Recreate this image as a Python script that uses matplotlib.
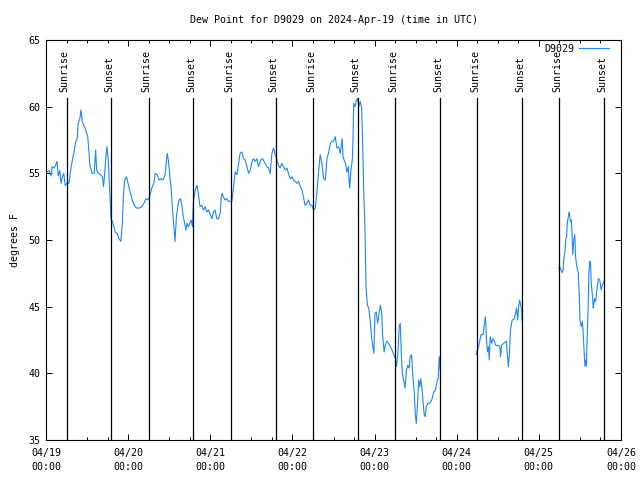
from datetime import datetime, timedelta
import numpy as np
import matplotlib
matplotlib.use("Agg")
import matplotlib.pyplot as plt
import matplotlib.dates as mdates

# hours since 2024-04-19 00:00 UTC, dew point in F (three pieces, gaps between)
hours_a = [0.2, 0.9, 1.5, 1.8, 2.4, 2.8, 3.2, 3.6, 4.0, 4.4, 4.8, 5.2, 5.6, 6.1, 6.7,
           7.3, 7.7, 8.3, 8.7, 9.1, 9.4, 9.9, 10.2, 10.6, 11.0, 11.4, 11.8, 12.2, 12.5,
           12.8, 13.2, 13.5, 14.1, 14.5, 14.8, 15.3, 15.9, 16.5, 16.8, 17.0, 17.5, 17.8,
           18.2, 18.6, 19.0, 19.6, 20.2, 20.8, 21.3, 21.9, 22.3, 22.6, 23.0, 23.5, 24.1,
           24.7, 25.2, 25.8, 26.4, 27.2, 28.0, 28.6, 29.2, 29.7, 30.3, 30.9, 31.5, 31.9,
           32.5, 33.0, 33.6, 34.2, 34.8, 35.4, 35.8, 36.2, 36.6, 36.9, 37.3, 37.7, 38.1,
           38.5, 38.9, 39.3, 39.7, 40.1, 40.4, 40.9, 41.2, 41.6, 42.0, 42.4, 42.8, 43.1,
           43.6, 44.1, 44.5, 45.0, 45.5, 46.0, 46.5, 47.0, 47.5, 48.0, 48.5, 48.9, 49.4,
           49.9, 50.4, 50.9, 51.2, 51.5, 51.8, 52.3, 52.8, 53.3, 53.8, 54.3, 54.8, 55.3,
           55.8, 56.2, 56.7, 57.2, 57.7, 58.2, 58.7, 59.2, 59.7, 60.2, 60.6, 61.1, 61.6,
           62.1, 62.6, 63.1, 63.5, 64.0, 64.5, 65.0, 65.5, 66.0, 66.5, 67.0, 67.5, 67.9,
           68.4, 68.9, 69.4, 69.9, 70.4, 70.9, 71.4, 71.9, 72.3, 72.8, 73.3, 73.8, 74.3,
           74.8, 75.2, 75.7, 76.2, 76.7, 77.2, 77.7, 78.2, 78.7, 79.2, 79.6, 80.1, 80.6,
           81.1, 81.6, 82.1, 82.6, 83.1, 83.5, 84.0, 84.5, 85.0, 85.5, 86.0, 86.5, 86.8,
           87.1, 87.5, 87.9, 88.3, 88.7, 89.1, 89.5, 89.7, 89.9, 90.3, 90.7, 91.0, 91.4,
           91.8, 92.2, 92.5, 92.8, 93.2, 93.5, 93.9, 94.3, 94.7, 95.1, 95.5, 95.8, 96.1,
           96.5, 96.9, 97.3, 97.7, 98.1, 98.3, 98.8, 99.1, 99.6, 100.1, 100.6, 101.1,
           101.6, 102.1, 102.4, 102.8, 103.2, 103.5, 103.8, 104.1, 104.5, 104.9, 105.3,
           105.7, 106.1, 106.4, 106.8, 107.2, 107.6, 107.9, 108.2, 108.5, 108.9, 109.2,
           109.5, 109.9, 110.2, 110.5, 110.8, 111.1, 111.5, 112.1, 112.7, 113.3, 113.8,
           114.3, 114.6, 114.9, 115.2]
dewpt_a = [55.1, 55.2, 54.8, 55.5, 55.4, 55.6, 55.9, 54.8, 55.2, 54.25, 54.75, 55.0, 54.1,
           54.25, 54.25, 55.4, 56.0, 56.75, 57.4, 57.6, 58.75, 59.1, 59.75, 58.9, 58.6,
           58.4, 58.1, 57.75, 56.75, 55.6, 55.25, 55.0, 55.0, 56.75, 55.25, 55.0, 54.9,
           54.75, 54.0, 54.5, 56.25, 57.0, 56.0, 53.75, 51.6, 51.25, 50.6, 50.5, 50.1,
           49.9, 51.25, 53.25, 54.5, 54.75, 54.1, 53.5, 53.0, 52.6, 52.4, 52.4, 52.5,
           52.75, 53.1, 53.0, 53.25, 53.9, 54.25, 55.0, 54.9, 54.5, 54.6, 54.5, 54.9,
           56.5, 55.9, 54.75, 53.75, 52.5, 51.25, 49.9, 51.75, 52.5, 53.0, 53.1, 52.6,
           51.75, 51.4, 50.75, 51.25, 51.0, 51.25, 51.5, 51.0, 53.0, 53.75, 54.1, 53.5,
           52.5, 52.6, 52.25, 52.5, 52.1, 52.25, 51.9, 51.6, 52.1, 52.25, 51.6, 51.6,
           52.0, 53.25, 53.5, 53.25, 53.0, 53.1, 52.9, 52.9, 52.9, 54.0, 55.1, 54.9,
           55.6, 56.5, 56.6, 56.1, 56.0, 55.5, 55.0, 55.25, 55.9, 56.1, 55.9, 56.1,
           55.5, 55.9, 56.1, 56.0, 55.75, 55.5, 55.4, 55.0, 56.5, 56.9, 56.4, 56.0,
           55.6, 55.4, 55.75, 55.5, 55.25, 55.4, 54.9, 54.6, 54.75, 54.5, 54.4, 54.25,
           54.4, 54.0, 53.75, 53.25, 52.6, 52.75, 53.0, 52.6, 52.6, 52.25, 52.4, 53.75,
           55.0, 56.4, 55.75, 54.6, 54.5, 56.1, 56.6, 57.25, 57.4, 57.4, 57.75, 56.9,
           57.0, 56.5, 57.6, 56.25, 56.0, 55.75, 55.1, 55.5, 53.9, 55.25, 56.0, 57.6,
           60.25, 60.0, 60.5, 60.6, 60.0, 60.4, 59.9, 57.5, 54.0, 50.75, 46.5, 45.1,
           44.9, 44.0, 42.75, 42.0, 41.5, 44.5, 44.6, 43.75, 44.5, 45.1, 44.5, 43.0,
           41.6, 42.1, 42.4, 42.25, 42.0, 41.75, 41.4, 41.1, 40.5, 41.5, 43.5, 43.75,
           41.5, 40.0, 39.5, 38.9, 40.25, 40.6, 40.4, 41.25, 41.4, 39.75, 38.5, 36.9,
           36.25, 37.5, 39.5, 39.0, 39.6, 38.75, 37.75, 36.9, 36.75, 37.5, 37.75, 37.75,
           38.0, 38.6, 38.75, 39.5, 39.6, 41.25, 40.25]

hours_b = [125.7, 126.0, 126.3, 126.7, 127.1, 127.7, 128.1, 128.4, 128.7, 129.0, 129.3,
           129.5, 129.8, 130.2, 130.6, 131.0, 131.4, 132.0, 132.6, 132.8, 133.1, 133.7,
           134.5, 134.8, 135.1, 135.4, 135.7, 136.2, 136.7, 137.2, 137.5, 137.8, 138.1,
           138.4, 138.7, 139.0, 139.1]
dewpt_b = [41.4, 41.75, 41.9, 42.4, 42.9, 42.9, 43.75, 44.25, 42.5, 41.6, 42.0, 41.0,
           42.75, 42.25, 42.6, 42.4, 42.1, 42.1, 42.0, 41.25, 42.1, 42.25, 42.4, 41.4,
           40.5, 41.5, 43.25, 44.0, 44.05, 44.5, 44.9, 44.0, 45.0, 45.5, 45.1, 44.75, 43.9]

hours_c = [149.8, 150.1, 150.5, 150.8, 151.1, 151.3, 151.6, 151.9, 152.1, 152.3, 152.7,
           152.9, 153.2, 153.5, 153.7, 153.9, 154.2, 154.5, 154.7, 155.0, 155.2, 155.5,
           155.8, 156.0, 156.4, 156.7, 156.9, 157.1, 157.3, 157.5, 157.7, 157.9, 158.1,
           158.4, 158.6, 158.9, 159.1, 159.3, 159.6, 159.9, 160.0, 160.3, 160.6, 161.0,
           161.4, 161.8, 162.2, 162.5, 162.8, 163.2]
dewpt_c = [47.9, 48.0, 47.75, 47.55, 47.75, 48.6, 49.1, 50.1, 50.2, 51.25, 51.9, 52.1,
           51.4, 51.5, 50.4, 48.9, 50.0, 50.4, 48.9, 48.1, 47.9, 47.6, 45.9, 44.0, 43.5,
           43.9, 43.25, 42.25, 41.25, 40.5, 41.0, 40.6, 42.5, 44.9, 47.5, 48.4, 48.25,
           46.75, 46.0, 44.9, 45.1, 45.6, 45.4, 46.4, 47.1, 47.0, 46.25, 46.6, 46.75, 47.0]

sunrise_hours = [6.10, 30.08, 54.05, 78.03, 102.0, 125.98, 149.95]
sunset_hours = [19.05, 43.07, 67.09, 91.11, 115.13, 139.15, 163.17]

station = "D9029"
start = datetime(2024, 4, 19)
end = datetime(2024, 4, 26)

plt.rcParams['font.family'] = ['DejaVu Sans Mono']
plt.rcParams['font.size'] = 7.2


def to_num(hs):
    # hours after start -> matplotlib date numbers (nan stays nan)
    return np.array([mdates.date2num(start + timedelta(hours=h)) if not np.isnan(h) else np.nan
                     for h in hs])


# join the pieces with a gap so the line breaks
hours_all = hours_a + [np.nan] + hours_b + [np.nan] + hours_c
dewpt_all = dewpt_a + [np.nan] + dewpt_b + [np.nan] + dewpt_c

fig = plt.figure(figsize=(6.4, 4.8), dpi=100)
ax = fig.add_axes([46 / 640, 40 / 480, 575 / 640, 400 / 480])

ax.plot(to_num(hours_all), dewpt_all, color='#1a88ff', linewidth=0.8, label=station)

# sunrise / sunset markers
for name, hs in (("Sunrise", sunrise_hours), ("Sunset", sunset_hours)):
    for x in to_num(hs):
        ax.axvline(x, ymin=0, ymax=0.855, color='black', linewidth=0.9)
        ax.annotate(name, xy=(x, 0.87), xycoords=('data', 'axes fraction'),
                    xytext=(-1.5, 0), textcoords='offset points',
                    rotation=90, ha='center', va='bottom', fontsize=7.2)

ax.set_xlim(mdates.date2num(start), mdates.date2num(end))
ax.set_ylim(35, 65)
ax.set_yticks(np.arange(35, 66, 5))

ax.xaxis.set_major_locator(mdates.DayLocator())
ax.xaxis.set_major_formatter(mdates.DateFormatter('%m/%d\n%H:%M'))
ax.xaxis.set_minor_locator(mdates.HourLocator(byhour=[6, 12, 18]))

ax.tick_params(which='both', direction='in', top=True, right=True, width=0.7)
ax.tick_params(which='major', length=4.5)
ax.tick_params(which='minor', length=2.5)
ax.tick_params(axis='x', pad=6)
ax.tick_params(axis='y', pad=4)
for lab in ax.get_xticklabels():
    lab.set_linespacing(1.5)
for s in ax.spines.values():
    s.set_linewidth(0.8)

ax.set_ylabel("degrees F", labelpad=6)
ax.set_title("Dew Point for %s on 2024-Apr-19 (time in UTC)" % station, pad=12.5, fontsize=7.2)

ax.legend(loc='upper right', bbox_to_anchor=(1 - 8 / 575, 1), frameon=False,
          markerfirst=False, handlelength=3.0, handletextpad=0.5,
          borderaxespad=0.3, borderpad=0.1, fontsize=7.2)

fig.savefig("out.png", dpi=100)
